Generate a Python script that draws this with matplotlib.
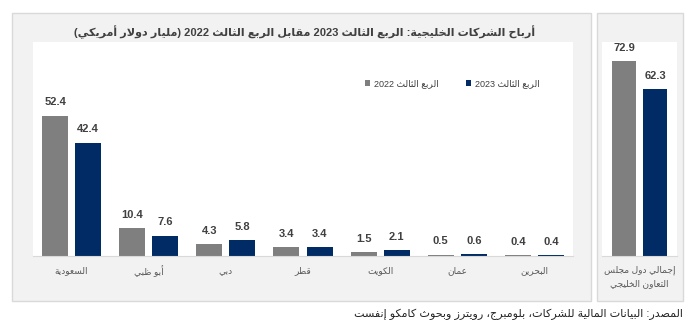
import re
import matplotlib
matplotlib.use("Agg")
import matplotlib.pyplot as plt
from matplotlib.patches import Rectangle
import numpy as np

# data
countries = ["السعودية", "أبو ظبي", "دبي", "قطر", "الكويت", "عمان", "البحرين"]
q3_2022 = [52.4, 10.4, 4.3, 3.4, 1.5, 0.5, 0.4]
q3_2023 = [42.4, 7.6, 5.8, 3.4, 2.1, 0.6, 0.4]
total_label = "إجمالي دول مجلس\nالتعاون الخليجي"
total_2022 = [72.9]
total_2023 = [62.3]
legend_2022 = "الربع الثالث 2022"
legend_2023 = "الربع الثالث 2023"
title = "أرباح الشركات الخليجية: الربع الثالث 2023 مقابل الربع الثالث 2022 (مليار دولار أمريكي)"
source = "المصدر: البيانات المالية للشركات، بلومبرج، رويترز وبحوث كامكو إنفست"

GRAY = "#7f7f7f"
NAVY = "#002b64"
TXT = "#404040"

# matplotlib has no arabic shaping, so map letters to presentation forms
# and reverse into visual order by hand
FOUR = {'ئ': 0xFE89, 'ب': 0xFE8F, 'ت': 0xFE95, 'ث': 0xFE99, 'ج': 0xFE9D, 'ح': 0xFEA1,
        'خ': 0xFEA5, 'س': 0xFEB1, 'ش': 0xFEB5, 'ص': 0xFEB9, 'ض': 0xFEBD, 'ط': 0xFEC1,
        'ظ': 0xFEC5, 'ع': 0xFEC9, 'غ': 0xFECD, 'ف': 0xFED1, 'ق': 0xFED5, 'ك': 0xFED9,
        'ل': 0xFEDD, 'م': 0xFEE1, 'ن': 0xFEE5, 'ه': 0xFEE9, 'ي': 0xFEF1}
TWO = {'آ': 0xFE81, 'أ': 0xFE83, 'ؤ': 0xFE85, 'إ': 0xFE87, 'ا': 0xFE8D, 'ة': 0xFE93,
       'د': 0xFEA9, 'ذ': 0xFEAB, 'ر': 0xFEAD, 'ز': 0xFEAF, 'و': 0xFEED, 'ى': 0xFEEF,
       'لآ': 0xFEF5, 'لأ': 0xFEF7, 'لإ': 0xFEF9, 'لا': 0xFEFB}


def shape_line(s):
    chars = []
    i = 0
    while i < len(s):
        if s[i] == 'ل' and s[i:i + 2] in TWO:
            chars.append(s[i:i + 2])
            i += 2
        else:
            chars.append(s[i])
            i += 1
    out = []
    for k, c in enumerate(chars):
        if c not in FOUR and c not in TWO:
            out.append(c)
            continue
        prev = chars[k - 1] if k > 0 else ''
        nxt = chars[k + 1] if k + 1 < len(chars) else ''
        jp = prev in FOUR
        jn = c in FOUR and (nxt in FOUR or nxt in TWO)
        if c in FOUR:
            code = FOUR[c] + (3 if jp and jn else 2 if jn else 1 if jp else 0)
        else:
            code = TWO[c] + (1 if jp else 0)
        out.append(chr(code))
    vis = ''.join(out)[::-1]
    vis = re.sub(r'[0-9.]+', lambda m: m.group(0)[::-1], vis)
    return vis.translate(str.maketrans('()', ')('))


def ar(s):
    return "\n".join(shape_line(l) for l in s.split("\n"))


plt.rcParams['font.family'] = ['Liberation Sans', 'DejaVu Sans']

W, H = 697, 328
fig = plt.figure(figsize=(W / 100, H / 100), dpi=100)


def box(x0, y0, x1, y1):
    # pixel box (top-left origin) -> figure fraction
    return [x0 / W, 1 - y1 / H, (x1 - x0) / W, (y1 - y0) / H]


# grey panels behind the two charts
for x0, x1 in [(12, 591), (597, 683)]:
    b = box(x0, 13, x1, 301)
    fig.patches.append(Rectangle((b[0], b[1]), b[2], b[3], transform=fig.transFigure,
                                 facecolor="#f2f2f2", edgecolor="#d9d9d9", lw=1, zorder=-5))

ax = fig.add_axes(box(33, 42, 573, 256))
ax2 = fig.add_axes(box(602, 42, 677, 256))

x = np.arange(len(countries))
off = 0.214
bw = 0.337
b1 = ax.bar(x - off, q3_2022, bw, color=GRAY, label=ar(legend_2022))
b2 = ax.bar(x + off, q3_2023, bw, color=NAVY, label=ar(legend_2023))
for bars in (b1, b2):
    ax.bar_label(bars, fmt="%.1f", padding=6, fontsize=8, fontweight="bold", color=TXT)
ax.set_xlim(-0.5, len(countries) - 0.5)
ax.set_ylim(0, 80)
ax.set_xticks(x)
ax.set_xticklabels([ar(c) for c in countries], fontsize=6.5, color="#595959")

c1 = ax2.bar([-0.207], total_2022, 0.32, color=GRAY)
c2 = ax2.bar([0.207], total_2023, 0.32, color=NAVY)
for bars in (c1, c2):
    ax2.bar_label(bars, fmt="%.1f", padding=6, fontsize=8, fontweight="bold", color=TXT)
ax2.set_xlim(-0.5, 0.5)
ax2.set_ylim(0, 80)
ax2.set_xticks([0])
ax2.set_xticklabels([ar(total_label)], fontsize=6.5, color="#595959", linespacing=1.5)

for a in (ax, ax2):
    a.set_facecolor("white")
    for s in ("top", "left", "right"):
        a.spines[s].set_visible(False)
    a.spines["bottom"].set_color("#d9d9d9")
    a.set_yticks([])
    a.tick_params(axis="x", length=0, pad=7)

fig.text(305 / W, 1 - 32 / H, ar(title), ha="center", va="center",
         fontsize=8, fontweight="bold", color=TXT)

fig.legend(handles=[b1, b2], loc="center", bbox_to_anchor=(452 / W, 1 - 84 / H),
           ncol=2, frameon=False, fontsize=6.5, handlelength=0.6, handleheight=0.6,
           handletextpad=0.4, columnspacing=3.0, labelcolor=TXT)

# DejaVu oblique has no arabic glyphs, so the source line stays upright
fig.text(683 / W, 1 - 314 / H, ar(source), ha="right", va="center",
         fontsize=8, color="#262626")

fig.savefig("out.png", dpi=100)
